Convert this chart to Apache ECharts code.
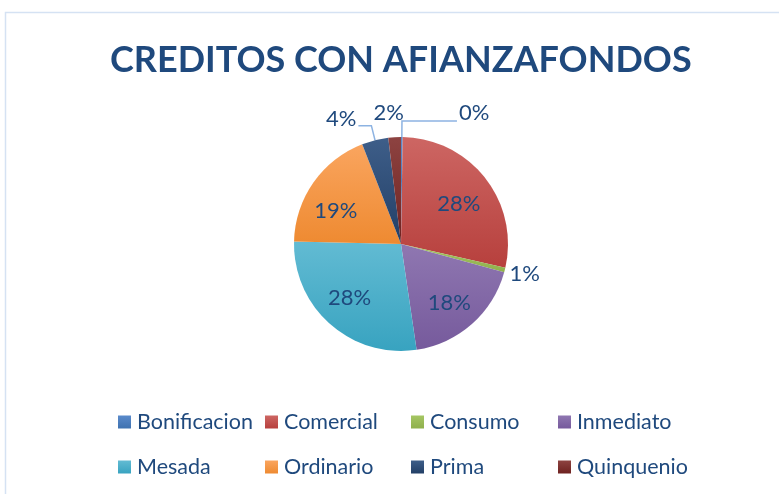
<!DOCTYPE html>
<html>
<head>
<meta charset="utf-8">
<script src="https://cdn.jsdelivr.net/npm/echarts@6/dist/echarts.min.js"></script>
<style>
html, body { margin: 0; padding: 0; background: #fff; }
#main { width: 779px; height: 494px; }
</style>
</head>
<body>
<div id="main"></div>
<script>
// datos (porcentaje del total)
var categorias = ['Bonificacion', 'Comercial', 'Consumo', 'Inmediato', 'Mesada', 'Ordinario', 'Prima', 'Quinquenio'];
var valores = [0.25, 28.3, 0.7, 18.4, 27.7, 18.7, 4.0, 1.9];
var coloresArriba = ['#5A8ACB', '#CD6663', '#A5C663', '#8F77B1', '#62BBD3', '#FAA55F', '#3E5E89', '#8D4341'];
var coloresAbajo = ['#3F72B0', '#B7403D', '#8FB04C', '#765A9C', '#38A3C0', '#EE8A31', '#223F66', '#6E2220'];

var azul = '#1F497D';
var fuente = 'Lato';
var total = valores.reduce(function(a, b) { return a + b; }, 0);

function degradado(i) {
	return new echarts.graphic.LinearGradient(0, 0, 0, 1, [
		{ offset: 0, color: coloresArriba[i] },
		{ offset: 1, color: coloresAbajo[i] }
	]);
}

// etiquetas externas de las rebanadas pequenas: [length, length2, mostrar linea]
var lineas = { 'Bonificacion': [16, 55, true], 'Consumo': [6, 0, false], 'Prima': [15, 13, true], 'Quinquenio': [12, 0, false] };
// pequenos ajustes de posicion de las etiquetas (dx, dy) como en excel
var ajustes = {
	'Bonificacion': [0, -8], 'Prima': [0, -7], 'Quinquenio': [12, -12], 'Consumo': [-3, 2],
	'Comercial': [-2, 7], 'Ordinario': [-3, 11], 'Mesada': [-1, -3], 'Inmediato': [-2, 2]
};

function createchart() {
	var myChart = echarts.init(document.getElementById('main'));
	var datosPie = categorias.map(function(c, i) {
		var l = lineas[c];
		return {
			name: c,
			value: valores[i],
			itemStyle: { color: degradado(i) },
			label: { show: !!l },
			labelLine: l ? { show: l[2], length: l[0], length2: l[1] } : { show: false }
		};
	});
	var datosEtiqueta = categorias.map(function(c, i) {
		return { name: c, value: valores[i], label: { show: !lineas[c] } };
	});
	var fmt = function(p) { return Math.round(p.value / total * 100) + '%'; };
	var mover = function(p) {
		var a = ajustes[categorias[p.dataIndex]] || [0, 0];
		return { dx: a[0], dy: a[1] };
	};

	var leyendas = [];
	for (var k = 0; k < 4; k++) {
		leyendas.push({
			orient: 'vertical',
			left: [118, 265, 411, 558][k],
			top: 411,
			padding: 0,
			itemWidth: 13,
			itemHeight: 13,
			itemGap: 23,
			icon: 'rect',
			selectedMode: false,
			data: [categorias[k], categorias[k + 4]],
			textStyle: { color: azul, fontFamily: fuente, fontSize: 21.5, lineHeight: 22, padding: [0, 0, 0, 1] }
		});
	}

	var option = {
		animation: false,
		backgroundColor: '#fff',
		title: {
			text: 'CREDITOS CON AFIANZAFONDOS',
			left: 105,
			top: 37,
			textStyle: { color: azul, fontFamily: fuente, fontWeight: 'bold', fontSize: 36 }
		},
		legend: leyendas,
		graphic: [{
			type: 'rect',
			shape: { x: 5.5, y: 12.5, width: 800, height: 600 },
			style: { fill: 'none', stroke: '#D5E2F3', lineWidth: 1.5 },
			silent: true
		}],
		series: [{
			type: 'pie',
			center: [401, 244],
			radius: 107,
			startAngle: 90,
			clockwise: true,
			avoidLabelOverlap: false,
			silent: true,
			label: {
				position: 'outside',
				formatter: fmt,
				color: azul,
				fontFamily: fuente,
				fontSize: 22,
				distanceToLabelLine: 2
			},
			labelLine: { lineStyle: { color: '#8DB3E2', width: 1.5 } },
			labelLayout: mover,
			data: datosPie
		}, {
			// capa transparente solo para ubicar las etiquetas internas
			type: 'pie',
			center: [401, 244],
			radius: [39, 107],
			startAngle: 90,
			clockwise: true,
			silent: true,
			itemStyle: { color: 'rgba(0,0,0,0)' },
			label: {
				position: 'inside',
				formatter: fmt,
				color: azul,
				fontFamily: fuente,
				fontSize: 22
			},
			labelLine: { show: false },
			labelLayout: mover,
			data: datosEtiqueta
		}]
	};
	myChart.setOption(option);
}
createchart();
</script>
</body>
</html>
